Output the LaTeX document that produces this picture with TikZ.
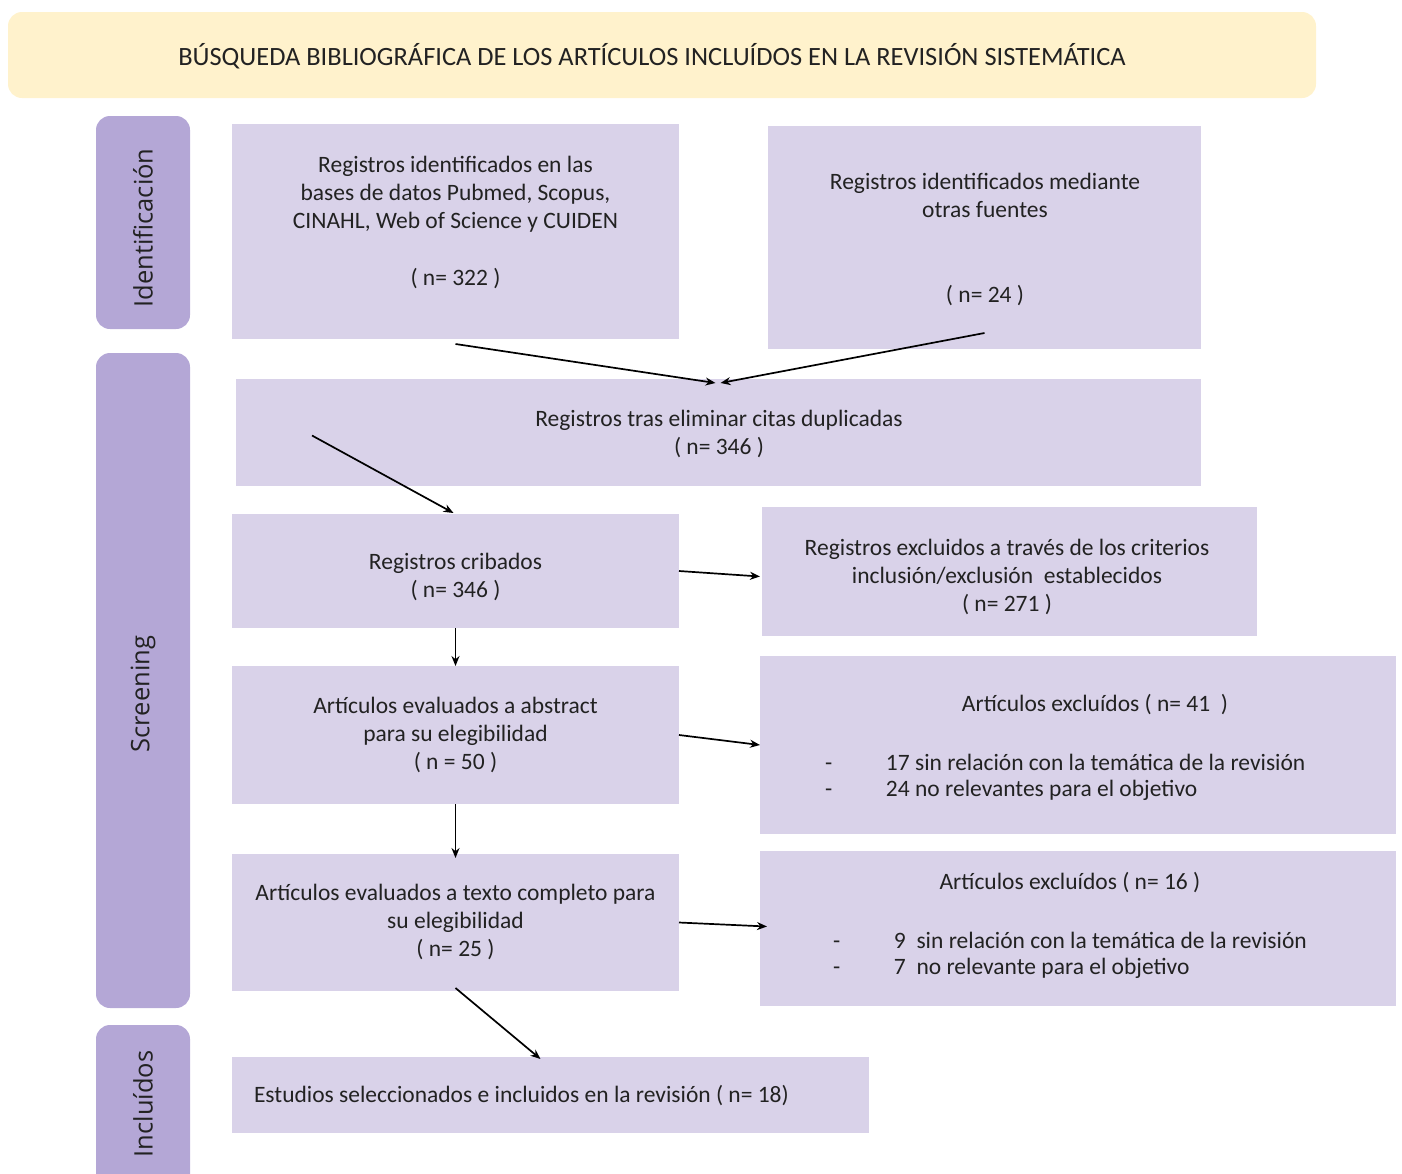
\documentclass[tikz,border=0pt]{standalone}
\usepackage{fontspec}
\setmainfont{Carlito}
\newfontfamily\sidefont{Open Sans}
\usetikzlibrary{arrows.meta,calc}
\definecolor{boxc}{HTML}{D9D2E9}
\definecolor{sidec}{HTML}{B4A7D6}
\definecolor{headc}{HTML}{FFF2CC}
\definecolor{txtc}{HTML}{222222}
\begin{document}
\begin{tikzpicture}[x=1pt,y=-1pt,
  every node/.style={inner sep=0pt,outer sep=0pt,text=txtc},
  bx/.style={fill=boxc,draw=none},
  side/.style={fill=sidec,draw=none,rounded corners=14pt},
  txt/.style={align=center,font=\fontsize{23.5}{28}\selectfont},
  ltxt/.style={anchor=west,font=\fontsize{23.5}{28}\selectfont},
  sidelbl/.style={rotate=90,font=\sidefont\fontsize{25.5}{30}\selectfont},
  arr/.style={line width=1.7pt,-{Stealth[length=10pt,width=8pt]}}]
\useasboundingbox (0,0) rectangle (1402,1173);
\clip (0,0) rectangle (1402,1173);
% header
\node[fill=headc,rounded corners=14pt,minimum width=1308pt,minimum height=86pt] (head) at (662,55) {};
\node[txt,font=\fontsize{26.4}{30}\selectfont] (headtxt) at (652,56) {BÚSQUEDA BIBLIOGRÁFICA DE LOS ARTÍCULOS INCLUÍDOS EN LA REVISIÓN SISTEMÁTICA};
% side bars
\node[side,minimum width=94pt,minimum height=213pt] (sid) at (143,222.5) {};
\node[side,minimum width=94pt,minimum height=655pt] (sscr) at (143,680.5) {};
\node[side,minimum width=94pt,minimum height=165pt] (sinc) at (143,1107.5) {};
\node[sidelbl] (lid) at (143,228) {Identificación};
\node[sidelbl] (lscr) at (143,694) {Screening};
\node[sidelbl] (linc) at (143,1104) {Incluídos};
% boxes
\node[bx,minimum width=447pt,minimum height=215pt] (A) at (455.5,231.5) {};
\node[bx,minimum width=433pt,minimum height=223pt] (B) at (984.5,237.5) {};
\node[bx,minimum width=965pt,minimum height=107pt] (C) at (718.5,432.5) {};
\node[bx,minimum width=447pt,minimum height=114pt] (D) at (455.5,571) {};
\node[bx,minimum width=495pt,minimum height=129pt] (E) at (1009.5,571.5) {};
\node[bx,minimum width=447pt,minimum height=138pt] (F) at (455.5,735) {};
\node[bx,minimum width=636pt,minimum height=178pt] (G) at (1078,745) {};
\node[bx,minimum width=447pt,minimum height=137pt] (H) at (455.5,922.5) {};
\node[bx,minimum width=636pt,minimum height=155pt] (I) at (1078,928.5) {};
\node[bx,minimum width=637pt,minimum height=76pt] (J) at (550.5,1095) {};
% texts
\node[txt] (At) at (455.5,222) {Registros identificados en las\\bases de datos Pubmed, Scopus,\\CINAHL, Web of Science y CUIDEN\\[29pt]( n= 322 )};
\node[txt] (Bt) at (985,239) {Registros identificados mediante\\otras fuentes\\[57pt]( n= 24 )};
\node[txt] (Ct) at (719,434) {Registros tras eliminar citas duplicadas\\( n= 346 )};
\node[txt] (Dt) at (455.5,577) {Registros cribados\\( n= 346 )};
\node[txt] (Et) at (1007,577) {Registros excluidos a través de los criterios\\inclusión/exclusión\ \ establecidos\\( n= 271 )};
\node[txt] (Ft) at (455.5,735) {Artículos evaluados a abstract\\para su elegibilidad\\( n = 50 )};
\node[txt] (Ht) at (455.5,922) {Artículos evaluados a texto completo para\\su elegibilidad\\( n= 25 )};
\node[txt] (Gt) at (1095,705) {Artículos excluídos ( n= 41\ \ )};
\node[ltxt] (Gl1) at (825,762) {\makebox[61pt][l]{-}17 sin relación con la temática de la revisión};
\node[ltxt] (Gl2) at (825,790) {\makebox[61pt][l]{-}24 no relevantes para el objetivo};
\node[txt] (It) at (1070,883) {Artículos excluídos ( n= 16 )};
\node[ltxt] (Il1) at (833,940) {\makebox[61pt][l]{-}9\ \ sin relación con la temática de la revisión};
\node[ltxt] (Il2) at (833,968) {\makebox[61pt][l]{-}7\ \ no relevante para el objetivo};
\node[ltxt] (Jt) at (254,1096) {Estudios seleccionados e incluidos en la revisión ( n= 18)};
% connectors
\draw[arr] ($(A.south)+(0,5)$) -- ($(C.north)+(-3,4)$);
\draw[arr] ($(B.south)+(0,-16)$) -- ($(C.north)+(2,4)$);
\coordinate (cstart) at ($(C.west)+(76,3)$);
\draw[arr] (cstart) -- ($(D.north)+(-2,-1)$);
\draw[arr] (D.east) -- ($(E.west)+(-2,5)$);
\draw[arr] (D.south) -- (F.north);
\draw[arr] (F.east) -- (G.west);
\draw[arr] (F.south) -- ($(H.north)+(0,4)$);
\draw[arr] (H.east) -- ($(I.west)+(7,-2)$);
\draw[arr] ($(H.south)+(0,-3)$) -- ($(J.north)+(-10,2)$);
\end{tikzpicture}
\end{document}
